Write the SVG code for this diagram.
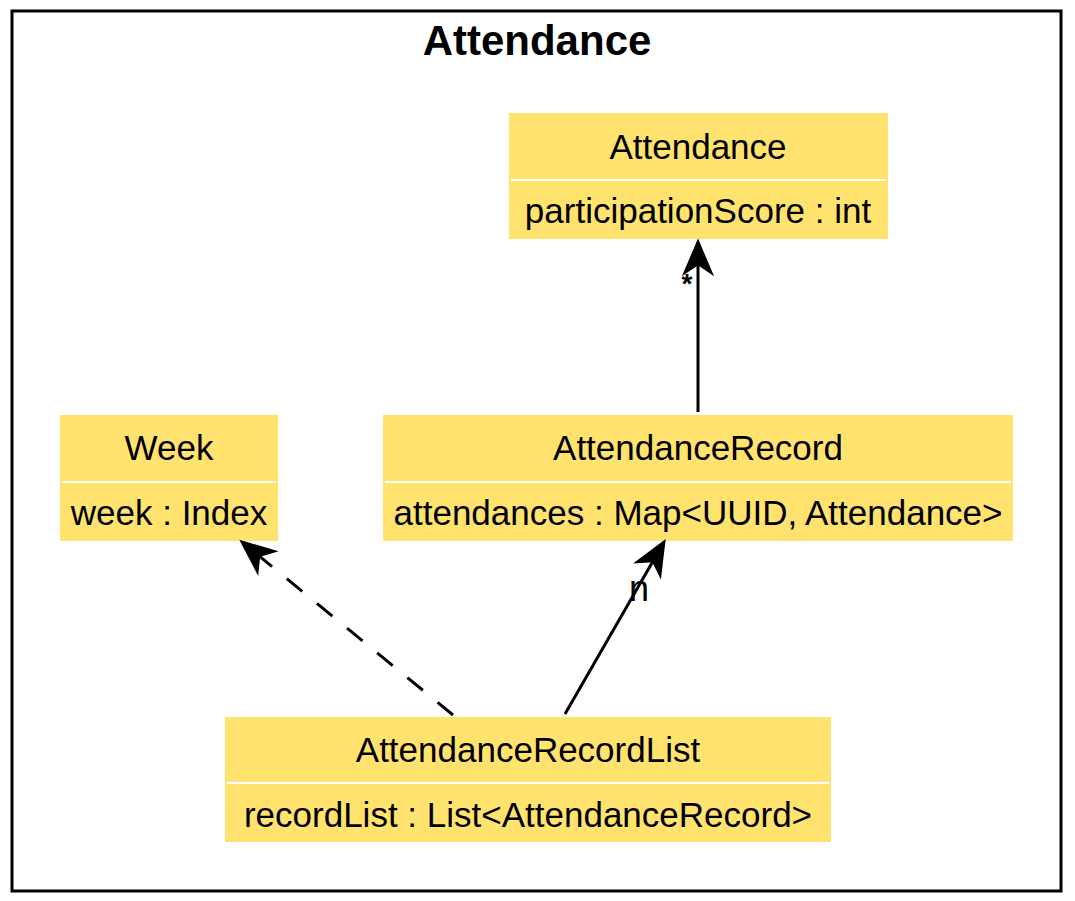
<svg xmlns="http://www.w3.org/2000/svg" width="1075" height="901" viewBox="0 0 1075 901">
<style>
.box{fill:#FFE36E}
.div{stroke:#fff;stroke-width:2}
.t{font-family:"Liberation Sans",Arial,sans-serif;font-size:35px;fill:#000;text-anchor:middle}
.edge{fill:none;stroke:#000;stroke-width:3}
</style>
<defs>
<marker id="arr" markerUnits="userSpaceOnUse" markerWidth="40" markerHeight="40" viewBox="-30 -15 34 30" refX="0" refY="0" orient="auto" overflow="visible">
<path d="M1,0 L-27,-12 L-19,0 L-27,12 Z" fill="#000" stroke="#000" stroke-width="1.5" stroke-linejoin="miter"/>
</marker>
</defs>
<rect x="12" y="11" width="1049" height="880" fill="#fff" stroke="#000" stroke-width="3"/>
<text x="537" y="55" class="t" style="font-weight:bold;font-size:42px">Attendance</text>
<g id="attendance">
<rect class="box" x="509" y="113" width="379" height="126"/>
<line class="div" x1="511" y1="180" x2="886" y2="180"/>
<text class="t" x="698" y="159">Attendance</text>
<text class="t" x="698" y="223">participationScore : int</text>
</g>
<g id="week">
<rect class="box" x="60" y="415" width="218" height="126"/>
<line class="div" x1="62" y1="482" x2="276" y2="482"/>
<text class="t" x="169" y="460">Week</text>
<text class="t" x="169" y="525">week : Index</text>
</g>
<g id="attendanceRecord">
<rect class="box" x="383" y="415" width="630" height="126"/>
<line class="div" x1="385" y1="482" x2="1011" y2="482"/>
<text class="t" x="698" y="460">AttendanceRecord</text>
<text class="t" x="698" y="525">attendances : Map&lt;UUID, Attendance&gt;</text>
</g>
<g id="attendanceRecordList">
<rect class="box" x="225" y="717" width="606" height="125"/>
<line class="div" x1="227" y1="783" x2="829" y2="783"/>
<text class="t" x="528" y="762">AttendanceRecordList</text>
<text class="t" x="528" y="827">recordList : List&lt;AttendanceRecord&gt;</text>
</g>
<g id="connectors">
<line class="edge" x1="698" y1="412" x2="698" y2="242" marker-end="url(#arr)"/>
<text x="687" y="293" style="font-family:'Liberation Sans',Arial,sans-serif;font-size:28px;font-weight:bold" text-anchor="middle">*</text>
<line class="edge" x1="565" y1="714" x2="664" y2="542" marker-end="url(#arr)"/>
<text x="639" y="601" class="t" style="font-size:36px">n</text>
<line class="edge" x1="453" y1="715" x2="242" y2="542" stroke-dasharray="20 19" marker-end="url(#arr)"/>
</g>
</svg>
